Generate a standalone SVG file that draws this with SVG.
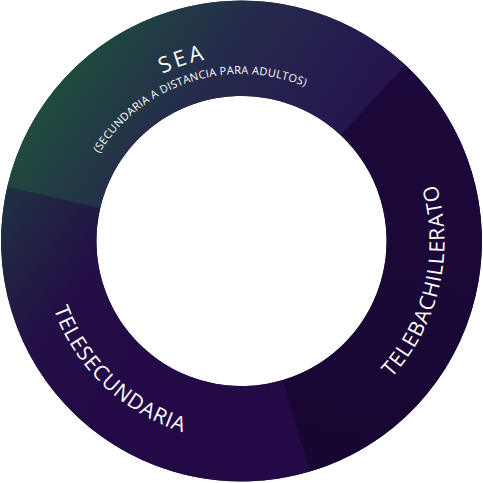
<svg xmlns="http://www.w3.org/2000/svg" width="483" height="483" viewBox="0 0 483 483">
  <defs>
    <linearGradient id="gSea" gradientUnits="userSpaceOnUse" x1="60" y1="40" x2="330" y2="220">
      <stop offset="0" stop-color="#1e513b"/>
      <stop offset="0.45" stop-color="#252a4c"/>
      <stop offset="1" stop-color="#25104f"/>
    </linearGradient>
    <linearGradient id="gTb" gradientUnits="userSpaceOnUse" x1="400" y1="80" x2="330" y2="470">
      <stop offset="0" stop-color="#1c093b"/>
      <stop offset="1" stop-color="#170632"/>
    </linearGradient>
    <linearGradient id="gTs" gradientUnits="userSpaceOnUse" x1="0" y1="210" x2="170" y2="330">
      <stop offset="0" stop-color="#1f2f41"/>
      <stop offset="0.5" stop-color="#231046"/>
      <stop offset="1" stop-color="#230946"/>
    </linearGradient>
    <path id="pSeaTitle" d="M 66.58 180.77 A 185 185 0 0 1 347.61 89.46"/>
    <path id="pSeaSub" d="M 83.60 186.63 A 167 167 0 0 1 337.29 104.20"/>
    <path id="pTb" d="M 307.59 432.94 A 203 203 0 0 0 385.04 97.46"/>
    <path id="pTs" d="M 44.54 206.27 A 200 200 0 0 0 286.49 435.87"/>
  </defs>
  <style>
    .lbl { fill: #ffffff; font-family: "Open Sans", "Liberation Sans", sans-serif; text-anchor: middle; }
    .big { font-size: 21px; letter-spacing: 0.8px; }
    .title { font-size: 22px; letter-spacing: 3px; }
    .sub { font-size: 11px; letter-spacing: 0.3px; }
  </style>
  <circle cx="241.5" cy="241" r="192.75" fill="none" stroke="#1e0c3e" stroke-width="95"/>
  <g id="sea">
    <path d="M 7.16 186.90 A 240.5 240.5 0 0 1 405.52 65.11 L 340.39 134.95 A 145 145 0 0 0 100.22 208.38 Z" fill="url(#gSea)"/>
    <text class="lbl title"><textPath href="#pSeaTitle" startOffset="50%">SEA</textPath></text>
    <text class="lbl sub"><textPath href="#pSeaSub" startOffset="50%">(SECUNDARIA A DISTANCIA PARA ADULTOS)</textPath></text>
  </g>
  <g id="telebachillerato">
    <path d="M 405.52 65.11 A 240.5 240.5 0 0 1 309.81 471.60 L 282.68 380.03 A 145 145 0 0 0 340.39 134.95 Z" fill="url(#gTb)"/>
    <text class="lbl big"><textPath href="#pTb" startOffset="50%">TELEBACHILLERATO</textPath></text>
  </g>
  <g id="telesecundaria">
    <path d="M 309.81 471.60 A 240.5 240.5 0 0 1 7.16 186.90 L 100.22 208.38 A 145 145 0 0 0 282.68 380.03 Z" fill="url(#gTs)"/>
    <text class="lbl big"><textPath href="#pTs" startOffset="50%">TELESECUNDARIA</textPath></text>
  </g>
  <g id="connectors"/>
</svg>
